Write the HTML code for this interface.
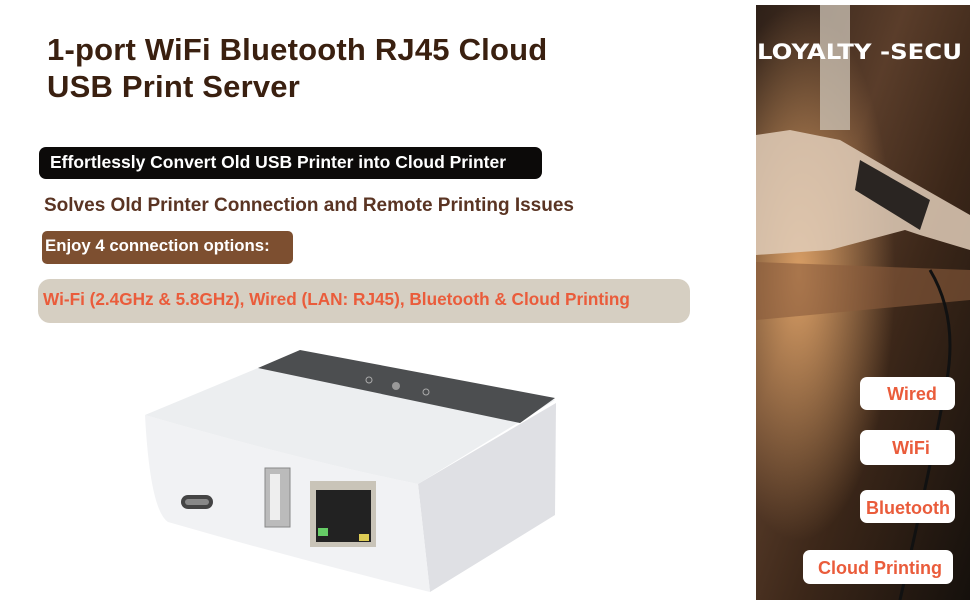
<!DOCTYPE html>
<html><head><meta charset="utf-8"><style>
*{margin:0;padding:0;box-sizing:border-box}
body{width:970px;height:600px;background:#fff;position:relative;overflow:hidden;font-family:"Liberation Sans",Arial,sans-serif;font-weight:bold}
.a{position:absolute;white-space:nowrap}
h1{position:absolute;left:47px;top:31px;font-size:31px;line-height:37px;color:#3a2010;letter-spacing:0.2px}
</style></head><body>
<h1>1-port WiFi Bluetooth RJ45 Cloud<br>USB Print Server</h1>
<div class="a" style="left:39px;top:147px;width:503px;height:32px;background:#0c0a09;border-radius:7px;color:#fff;font-size:17.5px;line-height:30px;padding-left:11px">Effortlessly Convert Old USB Printer into Cloud Printer</div>
<div class="a" style="left:44px;top:195px;font-size:19px;color:#5a3423">Solves Old Printer Connection and Remote Printing Issues</div>
<div class="a" style="left:42px;top:231px;width:251px;height:33px;background:#7d4f30;border-radius:5px;color:#fff;font-size:16.8px;line-height:29px;padding-left:3px">Enjoy 4 connection options:</div>
<div class="a" style="left:38px;top:279px;width:652px;height:44px;background:#d6cfc2;border-radius:12px;color:#ea5c3b;font-size:17.2px;line-height:40px;padding-left:5px">Wi-Fi (2.4GHz &amp; 5.8GHz), Wired (LAN: RJ45), Bluetooth &amp; Cloud Printing</div>

<svg class="a" style="left:0;top:0" width="970" height="600">
<defs>
<linearGradient id="bg" x1="0" y1="0" x2="1" y2="1">
<stop offset="0" stop-color="#2e2018"/><stop offset=".35" stop-color="#5a3d2a"/><stop offset=".6" stop-color="#3c2719"/><stop offset="1" stop-color="#15100c"/></linearGradient>
<radialGradient id="glow" cx="0.2" cy="0.45" r="0.45"><stop offset="0" stop-color="#f0b070" stop-opacity=".85"/><stop offset="1" stop-color="#f0b070" stop-opacity="0"/></radialGradient>
</defs>
<rect x="756" y="5" width="214" height="595" fill="url(#bg)"/>
<rect x="756" y="5" width="214" height="595" fill="url(#glow)"/>
<rect x="820" y="5" width="30" height="125" fill="#cfc5b8" opacity=".75"/>
<path d="M756 135 L790 130 L840 140 L900 175 L970 215 L970 250 L920 235 L905 230 L830 250 L756 255Z" fill="#e0cdb8" opacity=".85"/>
<path d="M860 160 L930 200 L920 230 L855 190Z" fill="#2a2522"/>
<path d="M756 262 L970 270 L970 300 L756 320Z" fill="#8a5c3c" opacity=".6"/>
<path d="M930 270 Q960 320 945 390 Q930 470 900 600" stroke="#111" stroke-width="3" fill="none"/>
<g fill="#fff"><rect x="860" y="377" width="95" height="33" rx="7"/><rect x="860" y="430" width="95" height="35" rx="7"/><rect x="860" y="490" width="95" height="33" rx="7"/><rect x="803" y="550" width="150" height="34" rx="7"/></g>
<g fill="#ea5c3b" font-family="Liberation Sans,Arial,sans-serif" font-weight="bold" font-size="18" text-anchor="middle">
<text x="912" y="400">Wired</text><text x="911" y="454">WiFi</text><text x="908" y="514">Bluetooth</text><text x="880" y="574">Cloud Printing</text></g>
<text x="757" y="59" fill="#fff" font-family="DejaVu Sans,sans-serif" font-size="21" textLength="205" lengthAdjust="spacingAndGlyphs">LOYALTY -SECU</text>

<path d="M418 484 L556 403 L555 515 L430 592Z" fill="#dfe0e4"/>
<path d="M145 415 Q300 460 418 484 L430 592 Q300 560 168 522 Q150 510 145 415Z" fill="#f1f2f4"/>
<path d="M145 415 L258 368 L555 400 L418 484 Q300 460 145 415Z" fill="#eceef0"/>
<path d="M258 368 L300 350 L555 398 L520 423Z" fill="#4c4e50"/>
<circle cx="396" cy="386" r="4" fill="#999"/><circle cx="426" cy="392" r="3" fill="none" stroke="#aaa"/><circle cx="369" cy="380" r="3" fill="none" stroke="#aaa"/>
<rect x="181" y="495" width="32" height="14" rx="7" fill="#444"/><rect x="185" y="499" width="24" height="6" rx="3" fill="#888"/>
<rect x="265" y="468" width="25" height="59" fill="#bbb" stroke="#888"/><rect x="270" y="474" width="10" height="46" fill="#eee"/>
<rect x="310" y="481" width="66" height="66" fill="#c9c4b8"/><rect x="316" y="490" width="55" height="52" fill="#222"/>
<rect x="318" y="528" width="10" height="8" fill="#6c6"/><rect x="359" y="534" width="10" height="7" fill="#dc5"/>
</svg>
</body></html>
